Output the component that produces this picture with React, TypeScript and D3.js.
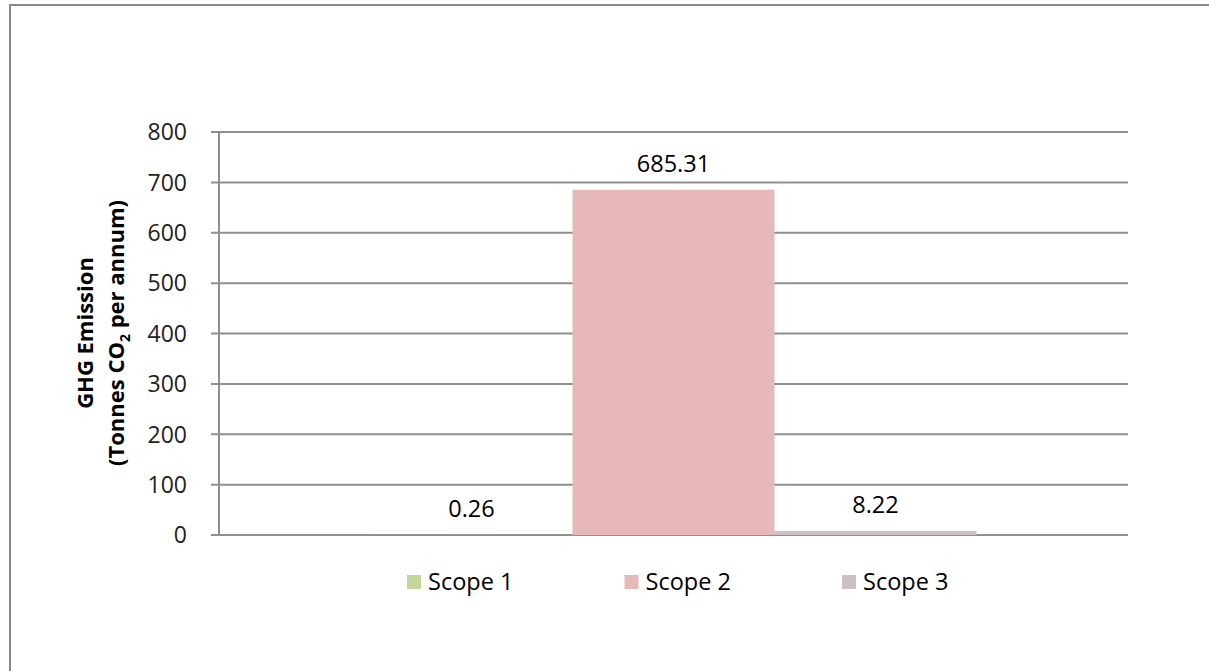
import React from "react";
import * as d3 from "d3";

const categories = ["Scope 1", "Scope 2", "Scope 3"];
const values = [0.26, 685.31, 8.22];
const colors = ["#c4d79b", "#e6b8b7", "#ccc0c6"];
const yTicks = [0, 100, 200, 300, 400, 500, 600, 700, 800];

const W = 1209;
const H = 671;
const plot = { left: 219, right: 1128, top: 132, bottom: 535 };

export default function App() {
  const y = d3.scaleLinear().domain([0, 800]).range([plot.bottom, plot.top]);
  const x = d3
    .scaleBand<string>()
    .domain(categories)
    .range([plot.left, plot.right])
    .paddingInner(0)
    .paddingOuter(0.75);
  const fmt = d3.format(".2f");
  const gridColor = "#8f8f8f";
  const font = "'Open Sans', sans-serif";

  const legendX = d3.scalePoint<string>().domain(categories).range([407, 842]);

  return (
    <svg
      width={W}
      height={H}
      style={{ position: "absolute", left: 0, top: 0, background: "#fff" }}
    >
      {/* chart frame */}
      <rect x={10} y={5} width={1300} height={800} fill="#fff" stroke="#8a8a8a" strokeWidth={2} />

      {/* gridlines and tick marks */}
      {yTicks.map((t) => (
        <g key={t}>
          <line x1={plot.left - 8} x2={plot.right} y1={y(t)} y2={y(t)} stroke={gridColor} strokeWidth={2} />
          <text
            x={187}
            y={y(t)}
            dy="0.36em"
            textAnchor="end"
            fontFamily={font}
            fontSize={23}
            fill="#222"
          >
            {t}
          </text>
        </g>
      ))}
      <line x1={plot.left} x2={plot.left} y1={plot.top} y2={plot.bottom} stroke={gridColor} strokeWidth={2} />

      {/* bars */}
      {categories.map((c, i) => (
        <rect
          key={c}
          x={x(c)!}
          y={y(values[i])}
          width={x.bandwidth()}
          height={plot.bottom - y(values[i])}
          fill={colors[i]}
        />
      ))}

      {/* value labels */}
      {categories.map((c, i) => (
        <text
          key={c}
          x={x(c)! + x.bandwidth() / 2}
          y={y(values[i]) - 18}
          textAnchor="middle"
          fontFamily={font}
          fontSize={23.5}
          fill="#000"
        >
          {fmt(values[i])}
        </text>
      ))}

      {/* axis title */}
      <g transform="translate(0,333) rotate(-90)" fontFamily={font} fontWeight="bold" fill="#000" textAnchor="middle">
        <text x={0} y={93} fontSize={22}>GHG Emission</text>
        <text x={0} y={124} fontSize={22}>
          (Tonnes CO<tspan fontSize={14} dy={6}>2</tspan>
          <tspan dy={-6}> per annum)</tspan>
        </text>
      </g>

      {/* legend */}
      {categories.map((c, i) => (
        <g key={c} transform={`translate(${legendX(c)},575)`}>
          <rect x={0} y={0} width={14} height={14} fill={colors[i]} />
          <text x={21} y={7} dy="0.36em" fontFamily={font} fontSize={23.5} fill="#000">
            {c}
          </text>
        </g>
      ))}
    </svg>
  );
}
